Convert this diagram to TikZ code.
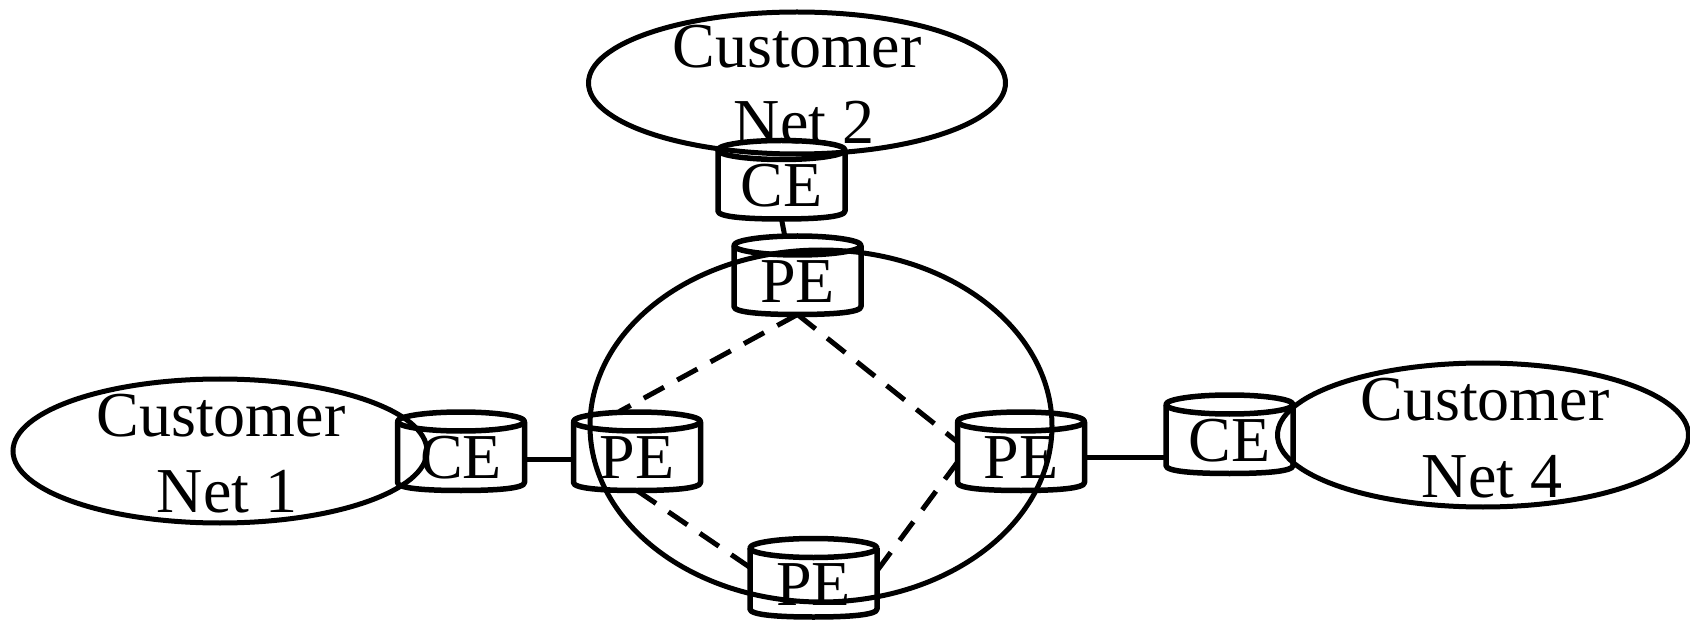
\documentclass[tikz,border=0pt]{standalone}
\usepackage{fontspec}
\setmainfont{Liberation Serif}
\usetikzlibrary{shapes.geometric}
\tikzset{
  x=1pt,y=-1pt,
  netshape/.style={ellipse,draw,line width=5pt,inner sep=0pt,outer sep=0pt},
  netlabel/.style={anchor=base,inner sep=0pt,font=\fontsize{64}{76}\selectfont},
  cylbox/.style={rectangle,inner sep=0pt,outer sep=0pt,minimum width=127pt,minimum height=79pt,
    text height=55pt,text depth=0pt,font=\fontsize{64}{76}\selectfont},
  cylline/.style={line width=5.5pt,line join=round},
  link/.style={line width=5pt},
  dashlink/.style={line width=5pt,dash pattern=on 23pt off 15pt}
}
\newcommand{\cylshape}[1]{%
  \draw[cylline] ([yshift=-10pt]#1.north) ellipse [x radius=63.5pt,y radius=9.5pt];
  \draw[cylline] ([yshift=-10pt]#1.north west) -- ([yshift=8pt]#1.south west)
    .. controls ([yshift=2pt]#1.south west) and ([xshift=-35pt]#1.south) .. (#1.south)
    .. controls ([xshift=35pt]#1.south) and ([yshift=2pt]#1.south east) .. ([yshift=8pt]#1.south east)
    -- ([yshift=-10pt]#1.north east);
}
\begin{document}
\begin{tikzpicture}
\useasboundingbox (0,0) rectangle (1690,620);
% clouds
\node[netshape,minimum width=417pt,minimum height=142pt] (net2) at (797,83) {};
\node[netshape,minimum width=414pt,minimum height=144pt] (net1) at (220,451) {};
\node[netshape,minimum width=411pt,minimum height=144pt] (net4) at (1483,435) {};
\node[netshape,minimum width=462pt,minimum height=352pt] (core) at (821,426) {};
% routers
\node[cylbox] (ce2) at (781.5,179.5) {CE};
\node[cylbox] (pet) at (797.5,275) {PE};
\node[cylbox] (ce1) at (461,451) {CE};
\node[cylbox] (pel) at (637,451) {PE};
\node[cylbox] (peb) at (813.5,577.5) {PE};
\node[cylbox] (per) at (1021,451) {PE};
\node[cylbox] (ce4) at (1229.5,434) {CE};
\cylshape{ce2}\cylshape{pet}\cylshape{ce1}\cylshape{pel}\cylshape{peb}\cylshape{per}\cylshape{ce4}
% links
\draw[link] (ce2.south) -- (pet.108);
\draw[link] (ce1.-8) -- (ce1.-8 -| pel.west);
\draw[link] (per.-6) -- (per.-6 -| ce4.west);
\draw[dashlink] (pet.south) -- (pel.114);
\draw[dashlink] (pet.south) -- (per.172);
\draw[dashlink] (pel.south) -- (peb.171.5);
\draw[dashlink] (peb.6.6) -- (per.190);
% labels
\node[netlabel] (t2a) at (797,68) {Customer};
\node[netlabel] (t2b) at (804,144) {Net 2};
\node[netlabel] (t1a) at (221,436) {Customer};
\node[netlabel] (t1b) at (227,512) {Net 1};
\node[netlabel] (t4a) at (1485,420) {Customer};
\node[netlabel] (t4b) at (1492,497) {Net 4};
\end{tikzpicture}
\end{document}
